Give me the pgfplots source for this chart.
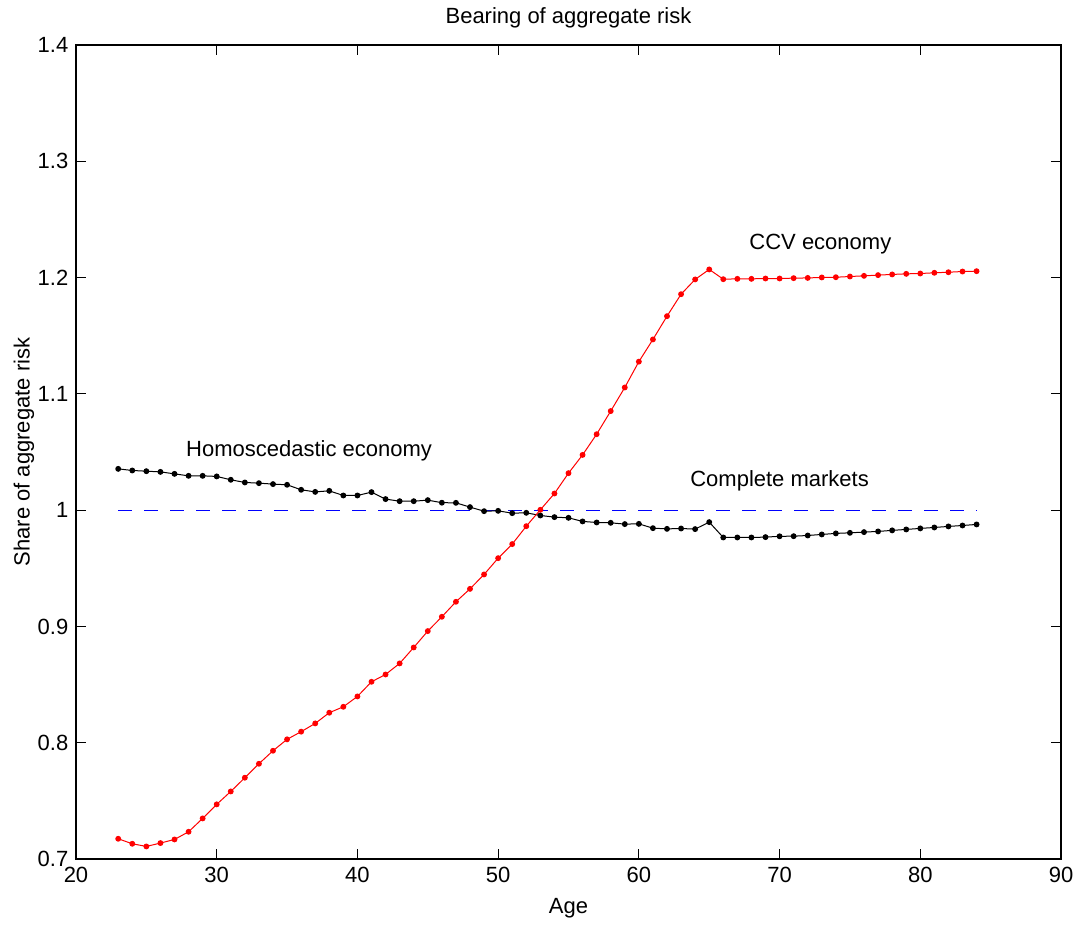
\documentclass[border=0pt]{standalone}
\usepackage{fontspec}
\setmainfont{Liberation Sans}
\usepackage{pgfplots}
\pgfplotsset{compat=1.18}
\begin{document}
\fontsize{11}{13}\selectfont
\begin{tikzpicture}
\begin{axis}[
  scale only axis,
  width=492.5pt, height=407pt,
  xmin=20, xmax=90, ymin=0.7, ymax=1.4,
  xtick={20,30,...,90},
  ytick={0.7,0.8,...,1.4},
  tick align=inside,
  xtick pos=both, ytick pos=both,
  major tick length=5pt,
  axis line style={line width=0.6pt},
  tick style={line width=0.5pt, black},
  /pgf/number format/assume math mode=true,
  yticklabel style={/pgf/number format/fixed, /pgf/number format/precision=1},
  xlabel={Age}, ylabel={Share of aggregate risk},
  xlabel style={at={(0.5,0)}, anchor=north, yshift=-16pt},
  ylabel style={at={(0,0.5)}, anchor=south, yshift=17pt},
  every tick label/.append style={font=\fontsize{11}{13}\selectfont},
  label style={font=\fontsize{11}{13}\selectfont},
  clip=false,
]
\addplot[blue, dashed, dash pattern=on 7pt off 6pt, line width=0.5pt] coordinates {(23,1) (84,1)};
\addplot[black, line width=0.5pt, mark=*, mark size=1.2pt] coordinates {
(23,1.0355)(24,1.0341)(25,1.0335)(26,1.0329)(27,1.0312)(28,1.0295)(29,1.0295)(30,1.0290)
(31,1.0261)(32,1.0238)(33,1.0232)(34,1.0224)(35,1.0218)(36,1.0175)(37,1.0157)(38,1.0166)
(39,1.0126)(40,1.0126)(41,1.0155)(42,1.0095)(43,1.0077)(44,1.0077)(45,1.0086)(46,1.0064)
(47,1.0063)(48,1.0026)(49,0.9991)(50,0.9994)(51,0.9974)(52,0.9977)(53,0.9954)(54,0.9940)
(55,0.9934)(56,0.9903)(57,0.9894)(58,0.9891)(59,0.9880)(60,0.9882)(61,0.9845)(62,0.9839)
(63,0.9842)(64,0.9837)(65,0.9897)(66,0.9765)(67,0.9765)(68,0.9765)(69,0.9768)(70,0.9775)
(71,0.9776)(72,0.9782)(73,0.9791)(74,0.9800)(75,0.9805)(76,0.9811)(77,0.9817)(78,0.9826)
(79,0.9834)(80,0.9843)(81,0.9851)(82,0.9860)(83,0.9868)(84,0.9877)};
\addplot[red, line width=0.5pt, mark=*, mark size=1.2pt] coordinates {
(23,0.7174)(24,0.7131)(25,0.7108)(26,0.7137)(27,0.7168)(28,0.7234)(29,0.7349)(30,0.7470)
(31,0.7581)(32,0.7699)(33,0.7819)(34,0.7931)(35,0.8029)(36,0.8095)(37,0.8166)(38,0.8258)
(39,0.8309)(40,0.8398)(41,0.8524)(42,0.8587)(43,0.8682)(44,0.8819)(45,0.8960)(46,0.9083)
(47,0.9212)(48,0.9323)(49,0.9447)(50,0.9587)(51,0.9708)(52,0.9862)(53,1.0003)(54,1.0143)
(55,1.0318)(56,1.0475)(57,1.0653)(58,1.0852)(59,1.1055)(60,1.1277)(61,1.1468)(62,1.1668)
(63,1.1857)(64,1.1984)(65,1.2070)(66,1.1986)(67,1.1989)(68,1.1989)(69,1.1992)(70,1.1992)
(71,1.1995)(72,1.1997)(73,1.2001)(74,1.2003)(75,1.2009)(76,1.2015)(77,1.2021)(78,1.2027)
(79,1.2032)(80,1.2035)(81,1.2041)(82,1.2046)(83,1.2052)(84,1.2055)};
\node at (axis cs:36.56,1.0507) {Homoscedastic economy};
\node at (axis cs:72.9,1.229) {CCV economy};
\node at (axis cs:70.0,1.025) {Complete markets};
\node at (rel axis cs:0.5,1) [yshift=13.5pt] {Bearing of aggregate risk};
\end{axis}
\pgfresetboundingbox
\path (current axis.south west) ++(-38pt,-33pt) coordinate (bbA);
\path (current axis.north east) ++(9.5pt,22.5pt) coordinate (bbB);
\useasboundingbox (bbA) rectangle (bbB);
\end{tikzpicture}
\end{document}
